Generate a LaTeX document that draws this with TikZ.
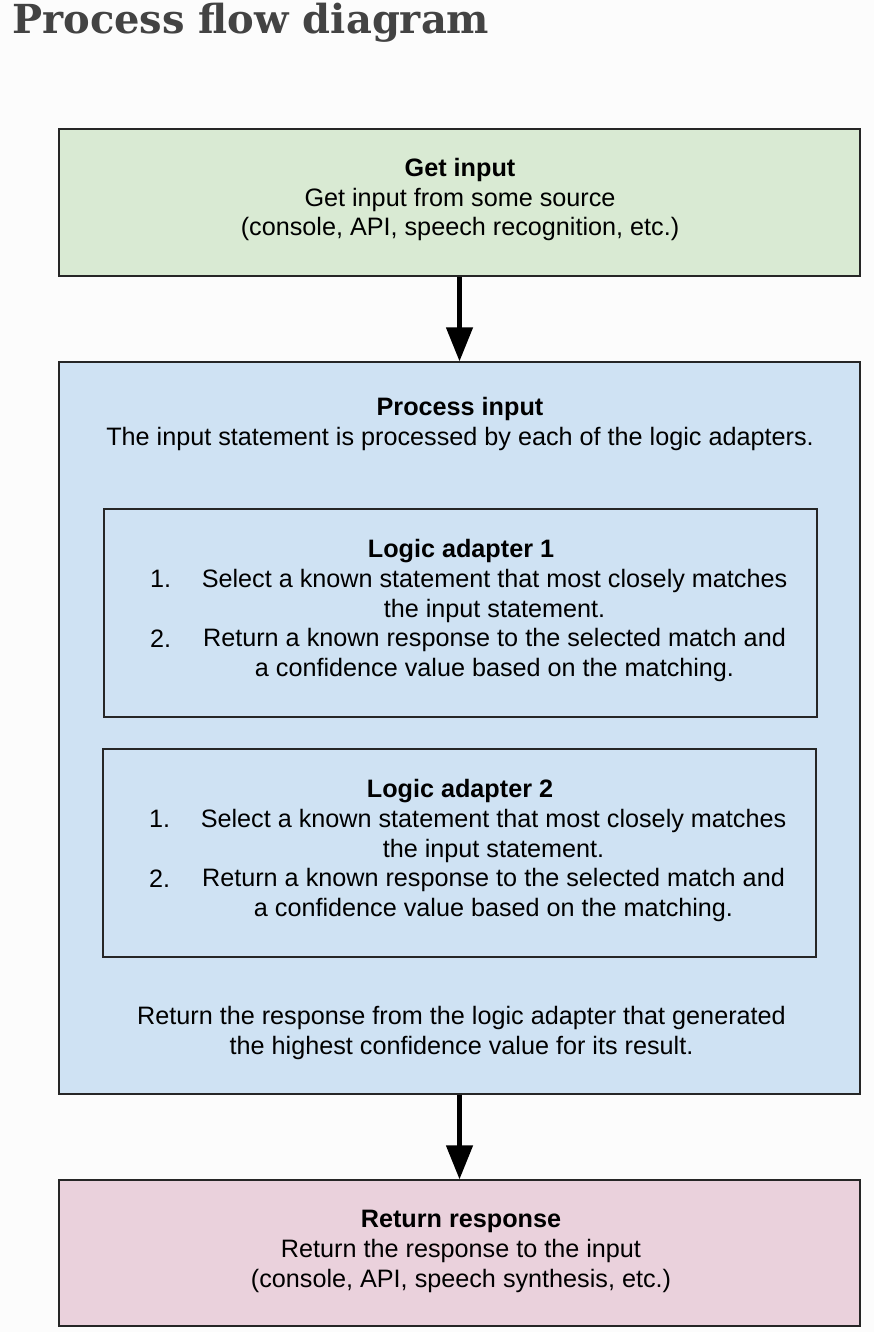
\documentclass[tikz,border=0pt]{standalone}
\usepackage{fontspec}
\setmainfont{Liberation Sans}
\newfontfamily\titlefont{DejaVu Serif}
\usetikzlibrary{arrows.meta}

\definecolor{pagebg}{HTML}{FCFCFC}
\definecolor{titlegray}{HTML}{434343}
\definecolor{edge}{HTML}{262626}
\definecolor{greenfill}{HTML}{D9EAD3}
\definecolor{bluefill}{HTML}{CFE2F3}
\definecolor{pinkfill}{HTML}{EAD1DC}

% multi-line nodes are placed by the baseline of their last line
\tikzset{
  stagebox/.style={draw=edge, line width=1.3pt, inner sep=0pt, rectangle},
  body/.style={font=\fontsize{25.2}{29.8}\selectfont, align=center, inner sep=0pt, anchor=base},
  itemno/.style={font=\fontsize{25.2}{29.8}\selectfont, inner sep=0pt, anchor=base west},
  flow/.style={line width=4.6pt, draw=black, -{Triangle[length=34pt,width=26pt]}},
}

\begin{document}
\begin{tikzpicture}[x=1pt, y=-1pt]
  % page
  \fill[pagebg] (0,0) rectangle (874,1332);
  \useasboundingbox (0,0) rectangle (874,1332);

  % heading
  \node[inner sep=0pt, anchor=base west, text=titlegray,
        font=\titlefont\bfseries\fontsize{40}{44}\selectfont] (title) at (12,34) {Process flow diagram};

  % stage boxes
  \node[stagebox, fill=greenfill, minimum width=801pt, minimum height=147pt] (gi) at (459.5,202.5) {};
  \node[stagebox, fill=bluefill,  minimum width=801pt, minimum height=732pt] (pi) at (459.5,728) {};
  \node[stagebox, fill=bluefill,  minimum width=713pt, minimum height=208pt] (la1) at (460.5,613) {};
  \node[stagebox, fill=bluefill,  minimum width=713pt, minimum height=208pt] (la2) at (459.5,853) {};
  \node[stagebox, fill=pinkfill,  minimum width=801pt, minimum height=146pt] (rr) at (459.5,1253) {};

  % texts
  \node[body] (gitxt) at (460,236) {\textbf{Get input}\\Get input from some source\\(console, API, speech recognition, etc.)};
  \node[body] (pitxt) at (460,445) {\textbf{Process input}\\The input statement is processed by each of the logic adapters.};

  \node[body] (la1t) at (461,557) {\textbf{Logic adapter 1}};
  \node[itemno] (la1n1) at (150,587) {1.};
  \node[body] (la1i1) at (494.5,617) {Select a known statement that most closely matches\\the input statement.};
  \node[itemno] (la1n2) at (150,647) {2.};
  \node[body] (la1i2) at (494.5,676) {Return a known response to the selected match and\\a confidence value based on the matching.};

  \node[body] (la2t) at (460,797) {\textbf{Logic adapter 2}};
  \node[itemno] (la2n1) at (149,827) {1.};
  \node[body] (la2i1) at (493.5,857) {Select a known statement that most closely matches\\the input statement.};
  \node[itemno] (la2n2) at (149,887) {2.};
  \node[body] (la2i2) at (493.5,916) {Return a known response to the selected match and\\a confidence value based on the matching.};

  \node[body] (ret) at (461.5,1054) {Return the response from the logic adapter that generated\\the highest confidence value for its result.};

  \node[body] (rrtxt) at (461,1287) {\textbf{Return response}\\Return the response to the input\\(console, API, speech synthesis, etc.)};

  % flow arrows
  \draw[flow] (gi.south) -- (pi.north);
  \draw[flow] (pi.south) -- (rr.north);
\end{tikzpicture}
\end{document}
